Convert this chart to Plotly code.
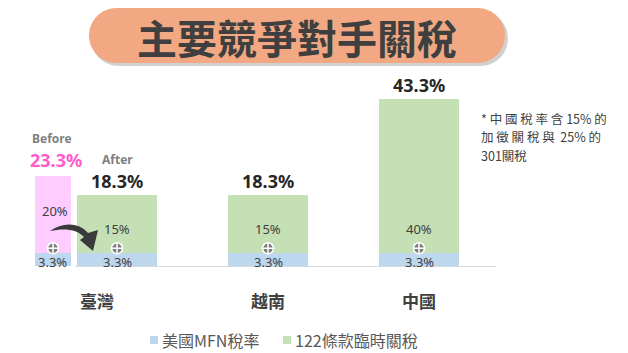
import plotly.graph_objects as go

# ---------------- data ----------------
categories = ["臺灣", "越南", "中國"]
mfn_rate = [3.3, 3.3, 3.3]            # 美國MFN稅率
sec122_rate = [15, 15, 40]            # 122條款臨時關稅
taiwan_before_extra = 20              # 臺灣 (Before) 原對等關稅
series_names = ["美國MFN稅率", "122條款臨時關稅"]
note_lines = ["* 中 國 稅 率 含 15% 的", "加 徵 關 稅 與  25% 的", "301關稅"]

# ---------------- layout constants ----------------
W, H = 628, 353
BLUE, GREEN, PINK = "#BDD7EE", "#C5E0B4", "#FFCCFF"
DARK, GRAY = "#404040", "#7F7F7F"
FONT = "Noto Sans, Noto Sans CJK TC, sans-serif"
CJK = "Noto Sans CJK TC, sans-serif"

X0_PX, X_STEP = 117, 151          # pixel of category 0 and spacing
BASE_PX, TOP_PX = 266, 99          # baseline and top of largest bar
totals = [m + s for m, s in zip(mfn_rate, sec122_rate)]
before_total = mfn_rate[0] + taiwan_before_extra
PPU = (BASE_PX - TOP_PX) / max(totals)  # pixels per % unit

def pxx(x):
    return x / W

def pxy(y):
    return 1 - y / H

cat_pos = list(range(len(categories)))
before_pos = -0.424
main_w, before_w = 0.53, 0.238

fig = go.Figure()

# MFN (blue) bottom segments
fig.add_trace(go.Bar(
    x=[before_pos] + cat_pos, y=[mfn_rate[0]] + mfn_rate,
    width=[before_w] + [main_w] * len(cat_pos),
    marker=dict(color=BLUE, line_width=0), name=series_names[0], hoverinfo="skip"))
# Before pink segment
fig.add_trace(go.Bar(
    x=[before_pos], y=[taiwan_before_extra], width=[before_w],
    marker=dict(color=PINK, line_width=0), name="Before", hoverinfo="skip"))
# Section 122 (green)
fig.add_trace(go.Bar(
    x=cat_pos, y=sec122_rate, width=[main_w] * len(cat_pos),
    marker=dict(color=GREEN, line_width=0), name=series_names[1], hoverinfo="skip"))

# plus-circle markers
plus_x = [before_pos] + cat_pos
plus_y = [m + 5 / PPU for m in [mfn_rate[0]] + mfn_rate]
fig.add_trace(go.Scatter(
    x=plus_x, y=plus_y, mode="markers", hoverinfo="skip",
    marker=dict(symbol="circle-cross", size=11, color="#7F7F7F",
                line=dict(color="white", width=1.5))))

ann = []
# inner labels
for x, m in zip([before_pos] + cat_pos, [mfn_rate[0]] + mfn_rate):
    ann.append(dict(x=x, y=m / 2, xref="x", yref="y", text=f"{m}%", showarrow=False,
                    xanchor="center", yanchor="middle",
                    font=dict(family=FONT, size=13, color=DARK), yshift=-2))
for x, m, s in zip(cat_pos, mfn_rate, sec122_rate):
    ann.append(dict(x=x, y=m, xref="x", yref="y", text=f"{s}%", showarrow=False,
                    xanchor="center", yanchor="bottom", yshift=13,
                    font=dict(family=FONT, size=13, color=DARK)))
ann.append(dict(x=before_pos, y=mfn_rate[0] + taiwan_before_extra / 2, xref="x", yref="y",
                text=f"{taiwan_before_extra}%", showarrow=False, xshift=2, yshift=4,
                xanchor="center", yanchor="middle",
                font=dict(family=FONT, size=13, color=DARK)))
# totals
for x, t in zip(cat_pos, totals):
    ann.append(dict(x=x, y=t, xref="x", yref="y", text=f"<b>{t:.1f}%</b>", showarrow=False,
                    xanchor="center", yanchor="bottom", yshift=0,
                    font=dict(family=FONT, size=18, color="#262626")))
ann.append(dict(x=cat_pos[0], y=totals[0], xref="x", yref="y", text="<b>After</b>",
                showarrow=False, xanchor="center", yanchor="bottom", yshift=25,
                font=dict(family=FONT, size=12, color=GRAY)))
ann.append(dict(x=before_pos, y=before_total, xref="x", yref="y",
                text=f"<b>{before_total:.1f}%</b>", showarrow=False, xshift=3,
                xanchor="center", yanchor="bottom", yshift=2,
                font=dict(family=FONT, size=18, color="#FF5BCB")))
ann.append(dict(x=before_pos, y=before_total, xref="x", yref="y", text="<b>Before</b>",
                showarrow=False, xanchor="center", yanchor="bottom", yshift=27, xshift=-1,
                font=dict(family=FONT, size=12, color=GRAY)))
# category labels
cat_label_x = [-0.13] + cat_pos[1:]
for x, c in zip(cat_label_x, categories):
    ann.append(dict(x=x, y=pxy(300), xref="x", yref="paper", text=f"<b>{c}</b>",
                    showarrow=False, xanchor="center", yanchor="middle",
                    font=dict(family=CJK, size=17, color=DARK)))
# title
ann.append(dict(x=pxx(297), y=pxy(37), xref="paper", yref="paper",
                text="<b>主要競爭對手關稅</b>", showarrow=False,
                xanchor="center", yanchor="middle",
                font=dict(family=CJK, size=40, color="#3F3F3F")))
# note (one annotation per line)
for i, line in enumerate(note_lines):
    ann.append(dict(x=pxx(479), y=pxy(118 + 18.5 * i), xref="paper", yref="paper",
                    xanchor="left", yanchor="middle", align="left", text=line,
                    showarrow=False, font=dict(family=CJK, size=12.5, color=DARK)))

shapes = []

def pill(x0, y0, x1, y1, color, opacity=1.0):
    r = (y1 - y0) / 2
    k = 0.5523 * r
    cy = (y0 + y1) / 2
    lx, rx = x0 + r, x1 - r
    pts = [
        ("M", [(lx, y0)]),
        ("L", [(rx, y0)]),
        ("C", [(rx + k, y0), (x1, cy - k), (x1, cy)]),
        ("C", [(x1, cy + k), (rx + k, y1), (rx, y1)]),
        ("L", [(lx, y1)]),
        ("C", [(lx - k, y1), (x0, cy + k), (x0, cy)]),
        ("C", [(x0, cy - k), (lx - k, y0), (lx, y0)]),
    ]
    path = " ".join(cmd + " " + " ".join(f"{pxx(a):.5f},{pxy(b):.5f}" for a, b in p)
                    for cmd, p in pts) + " Z"
    return dict(type="path", xref="paper", yref="paper", path=path,
                fillcolor=color, opacity=opacity, line_width=0, layer="below")

shapes.append(pill(91, 11, 508, 66, "#9A9A9A", 0.45))
shapes.append(pill(89, 8, 505, 63, "#F2A882"))

# curved arrow
def pth(cmds):
    return " ".join(cmd + " " + " ".join(f"{pxx(a):.5f},{pxy(b):.5f}" for a, b in p)
                    for cmd, p in cmds) + " Z"

arrow = pth([
    ("M", [(50, 231)]),
    ("C", [(62, 222), (79, 222), (88, 233)]),
    ("L", [(98, 230)]),
    ("L", [(93, 251)]),
    ("L", [(80, 240)]),
    ("L", [(84, 237)]),
    ("C", [(77, 229), (64, 228), (50, 231)]),
])
shapes.append(dict(type="path", xref="paper", yref="paper", path=arrow,
                   fillcolor="#3A3A3A", line_width=0))
# baseline
shapes.append(dict(type="line", xref="paper", yref="paper", x0=pxx(75), x1=pxx(496),
                   y0=pxy(BASE_PX + 0.5), y1=pxy(BASE_PX + 0.5),
                   line=dict(color="#D9D9D9", width=1)))

# manual legend
legend_items = [(series_names[0], BLUE, 150), (series_names[1], GREEN, 283)]
for name, col, x0 in legend_items:
    shapes.append(dict(type="rect", xref="paper", yref="paper",
                       x0=pxx(x0), x1=pxx(x0 + 8), y0=pxy(344), y1=pxy(336),
                       fillcolor=col, line_width=0))
    ann.append(dict(x=pxx(x0 + 10), y=pxy(340), xref="paper", yref="paper", text=name,
                    showarrow=False, xanchor="left", yanchor="middle",
                    font=dict(family=CJK, size=16, color="#595959")))

fig.update_layout(
    width=W, height=H, margin=dict(l=0, r=0, t=0, b=0, autoexpand=False),
    paper_bgcolor="white", plot_bgcolor="rgba(0,0,0,0)",
    barmode="stack", bargap=0, showlegend=False,
    xaxis=dict(domain=[0, 1], range=[-X0_PX / X_STEP, (W - X0_PX) / X_STEP],
               showgrid=False, zeroline=False, showline=False, showticklabels=False,
               fixedrange=True),
    yaxis=dict(domain=[1 - BASE_PX / H, 1], range=[0, BASE_PX / PPU],
               showgrid=False, zeroline=False, showline=False, showticklabels=False,
               fixedrange=True),
    annotations=ann, shapes=shapes,
)

fig.write_html("out.html")
